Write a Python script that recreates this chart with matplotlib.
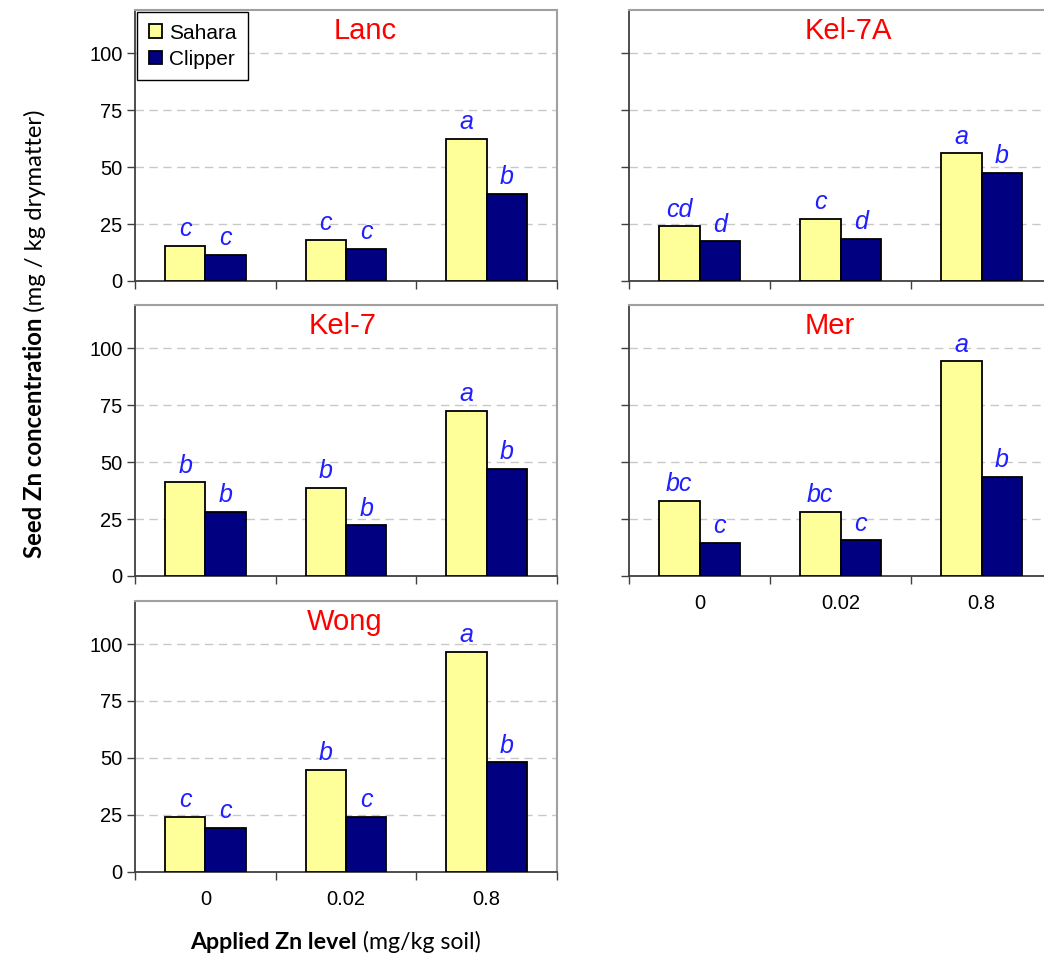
import matplotlib
matplotlib.use('Agg')
import matplotlib.pyplot as plt
import numpy as np

plt.rcParams['font.family'] = 'Liberation Sans'

levels = ['0', '0.02', '0.8']

sahara_lanc = [15.5, 18.1, 62.4]
clipper_lanc = [11.5, 14.0, 38.3]
letters_sahara_lanc = ['c', 'c', 'a']
letters_clipper_lanc = ['c', 'c', 'b']

sahara_kel7a = [24.0, 27.3, 56.1]
clipper_kel7a = [17.4, 18.4, 47.4]
letters_sahara_kel7a = ['cd', 'c', 'a']
letters_clipper_kel7a = ['d', 'd', 'b']

sahara_kel7 = [41.2, 38.7, 72.7]
clipper_kel7 = [28.2, 22.3, 47.1]
letters_sahara_kel7 = ['b', 'b', 'a']
letters_clipper_kel7 = ['b', 'b', 'b']

sahara_mer = [33.0, 28.2, 94.3]
clipper_mer = [14.7, 15.7, 43.7]
letters_sahara_mer = ['bc', 'bc', 'a']
letters_clipper_mer = ['c', 'c', 'b']

sahara_wong = [24.0, 44.6, 96.6]
clipper_wong = [19.2, 24.1, 48.0]
letters_sahara_wong = ['c', 'b', 'a']
letters_clipper_wong = ['c', 'c', 'b']

YELLOW = '#FFFF99'
NAVY = '#000080'
LETTER_BLUE = '#1F1FFF'
AXIS_DARK = '#404040'
FRAME_GRAY = '#A0A0A0'

# (name, sahara, clipper, letters, row, col, title x in axes units)
panels = [
    ('Lanc', sahara_lanc, clipper_lanc, letters_sahara_lanc, letters_clipper_lanc, 0, 0, 0.545),
    ('Kel-7A', sahara_kel7a, clipper_kel7a, letters_sahara_kel7a, letters_clipper_kel7a, 0, 1, 0.518),
    ('Kel-7', sahara_kel7, clipper_kel7, letters_sahara_kel7, letters_clipper_kel7, 1, 0, 0.493),
    ('Mer', sahara_mer, clipper_mer, letters_sahara_mer, letters_clipper_mer, 1, 1, 0.475),
    ('Wong', sahara_wong, clipper_wong, letters_sahara_wong, letters_clipper_wong, 2, 0, 0.498),
]

fig = plt.figure(figsize=(10.44, 9.55), dpi=100)

col_left = [0.1293, 0.6025]
col_width = [0.4042, 0.4052]
row_bottom = [0.7058, 0.3969, 0.0874]
row_height = 0.2835

bar_w = 0.287
x = np.arange(len(levels)) + 0.5

for name, sahara, clipper, lab_s, lab_c, row, col, tx in panels:
    ax = fig.add_axes([col_left[col], row_bottom[row], col_width[col], row_height])
    ax.bar(x - bar_w / 2, sahara, bar_w, color=YELLOW, edgecolor='black',
           linewidth=1.3, zorder=3, label='Sahara')
    ax.bar(x + bar_w / 2, clipper, bar_w, color=NAVY, edgecolor='black',
           linewidth=1.3, zorder=3, label='Clipper')

    for xi, v, lab in zip(x - bar_w / 2, sahara, lab_s):
        ax.annotate(lab, (xi, v), xytext=(0, 7), textcoords='offset points',
                    ha='center', va='baseline', color=LETTER_BLUE,
                    style='italic', fontsize=18, zorder=4)
    for xi, v, lab in zip(x + bar_w / 2, clipper, lab_c):
        ax.annotate(lab, (xi, v), xytext=(0, 7), textcoords='offset points',
                    ha='center', va='baseline', color=LETTER_BLUE,
                    style='italic', fontsize=18, zorder=4)

    ax.text(tx, 1 - 29 / 270, name, transform=ax.transAxes, ha='center',
            va='baseline', color='red', fontsize=21)

    ax.set_xlim(0, 3)
    ax.set_ylim(0, 119)
    ax.set_yticks([0, 25, 50, 75, 100])
    ax.yaxis.grid(True, linestyle=(0, (6, 4)), color='#C8C8C8', linewidth=1.0)
    ax.set_axisbelow(True)

    # category separators as major ticks, level names on minor ticks
    ax.set_xticks([0, 1, 2, 3])
    ax.set_xticklabels([])
    ax.set_xticks(x, minor=True)
    if (row, col) in [(1, 1), (2, 0)]:
        ax.set_xticklabels(levels, minor=True)
    else:
        ax.set_xticklabels([], minor=True)
    ax.tick_params(axis='x', which='major', direction='out', length=6,
                   width=1.0, color=AXIS_DARK)
    ax.tick_params(axis='x', which='minor', length=0, pad=13, labelsize=14.5)
    ax.tick_params(axis='y', direction='out', length=6, width=1.0,
                   color=AXIS_DARK, labelsize=14.5, pad=3,
                   labelleft=(col == 0))

    ax.spines['left'].set_color(AXIS_DARK)
    ax.spines['bottom'].set_color(AXIS_DARK)
    ax.spines['left'].set_linewidth(1.3)
    ax.spines['bottom'].set_linewidth(1.3)
    ax.spines['top'].set_color(FRAME_GRAY)
    ax.spines['right'].set_color(FRAME_GRAY)
    ax.spines['top'].set_linewidth(1.5)
    ax.spines['right'].set_linewidth(1.5)

    if name == 'Lanc':
        leg = ax.legend(loc='upper left', bbox_to_anchor=(0.005, 0.993),
                        fontsize=15, frameon=True, fancybox=False,
                        edgecolor='black', framealpha=1, borderaxespad=0,
                        handlelength=0.65, handleheight=0.65,
                        handletextpad=0.35, borderpad=0.55, labelspacing=0.35)
        leg.get_frame().set_linewidth(1.0)
        leg.set_zorder(5)


def label_parts(x0, y0, parts, rotation, size):
    # lay out bold and regular pieces one after another along the baseline
    renderer = fig.canvas.get_renderer()
    for text, weight in parts:
        t = fig.text(x0, y0, text, fontsize=size, fontweight=weight,
                     family='Lato', rotation=rotation, rotation_mode='anchor',
                     ha='left', va='baseline')
        bb = t.get_window_extent(renderer)
        if rotation == 0:
            x0 += bb.width / fig.bbox.width
        else:
            y0 += bb.height / fig.bbox.height


label_parts(190 / 1044, 1 - 949 / 955,
            [('Applied Zn level', 'bold'), (' (mg/kg soil)', 'normal')], 0, 16.7)
label_parts(42 / 1044, 1 - 558 / 955,
            [('Seed Zn concentration', 'bold'), (' (mg / kg drymatter)', 'normal')], 90, 17.2)

fig.savefig('out.png', dpi=100)
